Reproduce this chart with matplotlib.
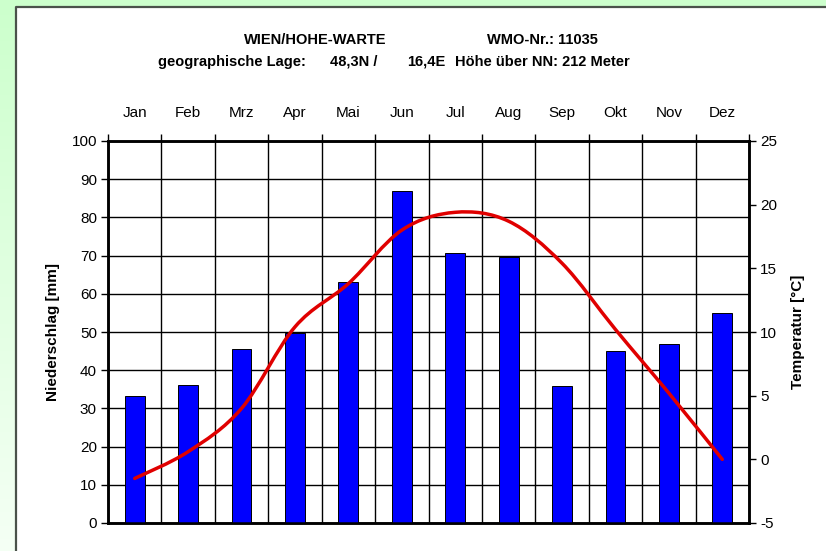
import numpy as np
import matplotlib
matplotlib.use("Agg")
import matplotlib.pyplot as plt
from matplotlib import font_manager
from matplotlib.path import Path
from matplotlib.patches import PathPatch, Rectangle

months = ["Jan", "Feb", "Mrz", "Apr", "Mai", "Jun", "Jul", "Aug", "Sep", "Okt", "Nov", "Dez"]
niederschlag = [33.3, 36.1, 45.5, 49.8, 63.1, 86.9, 70.6, 69.7, 35.9, 45.1, 46.9, 54.9]
temperatur = [-1.5, 0.6, 4.0, 10.4, 13.8, 18.0, 19.4, 18.7, 15.4, 10.2, 5.2, 0.0]
mm_ticks = list(range(0, 101, 10))
temp_ticks = list(range(-5, 26, 5))

available = {f.name for f in font_manager.fontManager.ttflist}
narrow = "Liberation Sans Narrow" if "Liberation Sans Narrow" in available else "Liberation Sans"

W, H = 826, 551
fig = plt.figure(figsize=(W / 100, H / 100), dpi=100)

# background: green frame with a light gradient, white panel
bg = fig.add_axes([0, 0, 1, 1], zorder=-10)
bg.set_xlim(0, W)
bg.set_ylim(H, 0)
bg.axis("off")
grad = np.linspace(0, 1, 256)[:, None]
top_col = np.array([0.80, 1.0, 0.80])
bot_col = np.array([0.96, 1.0, 0.96])
img = top_col + (bot_col - top_col) * grad[:, :, None] * np.ones((1, 2, 1))
bg.imshow(img, extent=[0, W, H, 0], aspect="auto")
bg.add_patch(Rectangle((15, 6), W, H, facecolor="white", edgecolor="none"))
bg.plot([15.5, 15.5, W], [H, 6.5, 6.5], color="#4a524a", lw=1.6)

# header text
hdr = dict(fontfamily=narrow, fontweight="bold", fontsize=10.5, va="center")
fig.text(315 / W, 1 - 40 / H, "WIEN/HOHE-WARTE", ha="center", **hdr)
fig.text(487 / W, 1 - 40 / H, "WMO-Nr.: 11035", ha="left", **hdr)
fig.text(158 / W, 1 - 62 / H, "geographische Lage:", ha="left", **hdr)
fig.text(378 / W, 1 - 62 / H, "48,3N /", ha="right", **hdr)
fig.text(445 / W, 1 - 62 / H, "16,4E", ha="right", **hdr)
fig.text(455 / W, 1 - 62 / H, "Höhe über NN: 212 Meter", ha="left", **hdr)

ax = fig.add_axes([108 / W, 1 - 523 / H, (749 - 108) / W, (523 - 141) / H])
ax.set_facecolor("white")
x = np.arange(len(months))
ax.bar(x, niederschlag, width=0.37, color="#0000ff", edgecolor="black", linewidth=0.7, zorder=3)
ax.set_xlim(-0.5, len(months) - 0.5)
ax.set_ylim(0, 100)
ax.set_yticks(mm_ticks)
ax.set_yticklabels([str(v) for v in mm_ticks], fontfamily=narrow, fontsize=11)
ax.grid(axis="y", color="black", lw=1.0, zorder=1)

# month labels on top, ticks at category boundaries
ax.xaxis.tick_top()
ax.set_xticks(np.arange(-0.5, len(months), 1.0))
ax.set_xticklabels([])
ax.set_xticks(x, minor=True)
ax.set_xticklabels(months, minor=True, fontfamily=narrow, fontsize=11)
ax.tick_params(axis="x", which="major", length=5, width=1.0, direction="out")
ax.tick_params(axis="x", which="minor", length=0, pad=15)
ax.tick_params(axis="y", length=5, width=1.0, direction="out", pad=3)
ax.grid(axis="x", which="major", color="black", lw=1.0, zorder=1)
for s in ax.spines.values():
    s.set_linewidth(1.8)
ax.set_axisbelow(True)
ax.set_ylabel("Niederschlag [mm]", fontfamily=narrow, fontweight="bold", fontsize=11, labelpad=8)

ax2 = ax.twinx()
ax2.set_ylim(-5, 25)
ax2.set_yticks(temp_ticks)
ax2.set_yticklabels([str(v) for v in temp_ticks], fontfamily=narrow, fontsize=11)
ax2.tick_params(axis="y", length=5, width=1.0, direction="out", pad=3)
for s in ax2.spines.values():
    s.set_linewidth(1.8)
ax2.set_ylabel("Temperatur [°C]", fontfamily=narrow, fontweight="bold", fontsize=11, labelpad=10)

# smoothed temperature line (Excel-style cubic Bezier through monthly values)
pts = np.column_stack([x, temperatur]).astype(float)
ext = np.vstack([pts[0], pts, pts[-1]])
verts = [tuple(pts[0])]
codes = [Path.MOVETO]
for i in range(1, len(ext) - 2):
    p0, p1, p2, p3 = ext[i - 1], ext[i], ext[i + 1], ext[i + 2]
    c1 = p1 + (p2 - p0) / 6.0
    c2 = p2 - (p3 - p1) / 6.0
    verts += [tuple(c1), tuple(c2), tuple(p2)]
    codes += [Path.CURVE4] * 3
ax2.add_patch(PathPatch(Path(verts, codes), facecolor="none", edgecolor="#e00000",
                        lw=2.5, capstyle="round", zorder=5))

fig.savefig("out.png", dpi=100)
